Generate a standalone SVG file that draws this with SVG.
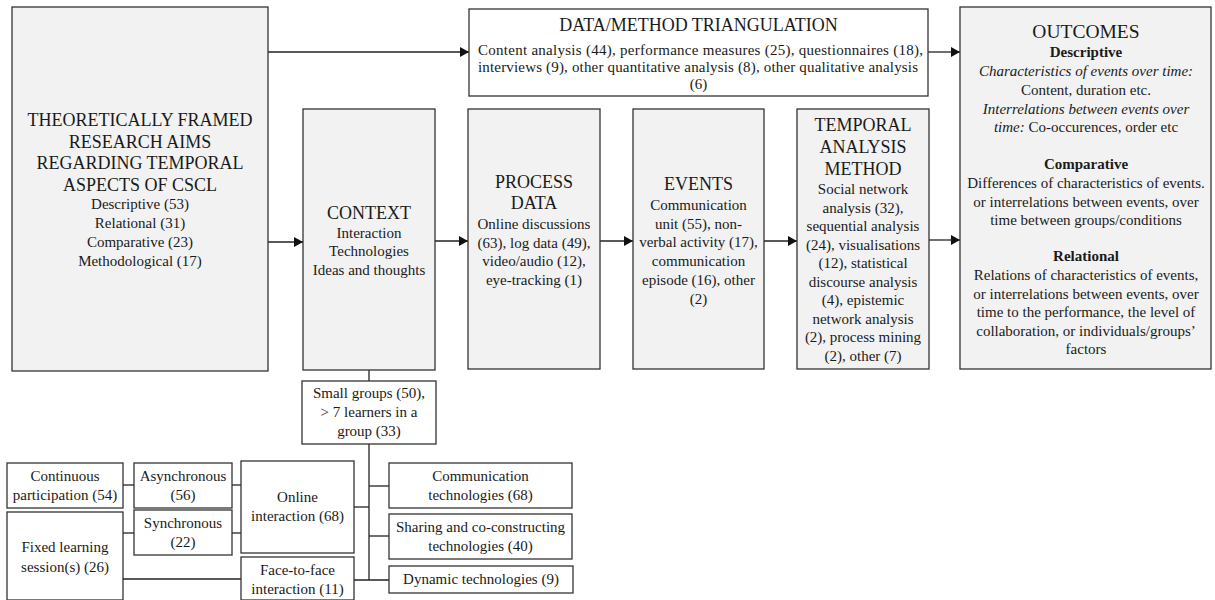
<svg xmlns="http://www.w3.org/2000/svg" width="1215" height="600" viewBox="0 0 1215 600">
<defs>
<marker id="arr" markerWidth="10" markerHeight="10" refX="9" refY="5" orient="auto" markerUnits="userSpaceOnUse">
<path d="M0,0 L9,5 L0,10 Z" fill="#111"/>
</marker>
<style>
text{font-family:"Liberation Serif","Times New Roman",serif;fill:#1a1a1a;text-anchor:middle;font-size:15px}
.t{font-size:18px}
.big{font-size:19.5px}
.b{font-weight:bold}
.i{font-style:italic}
.g{fill:#f2f2f2;stroke:#333;stroke-width:1.3}
.w{fill:#fff;stroke:#333;stroke-width:1.3}
.c{fill:none;stroke:#222;stroke-width:1.3}
</style>
</defs>
<rect width="1215" height="600" fill="#fff"/>

<g id="connectors">
<line class="c" x1="268" y1="52" x2="469" y2="52" marker-end="url(#arr)"/>
<line class="c" x1="928" y1="52" x2="960" y2="52" marker-end="url(#arr)"/>
<line class="c" x1="268" y1="242" x2="303" y2="242" marker-end="url(#arr)"/>
<line class="c" x1="435" y1="241" x2="468" y2="241" marker-end="url(#arr)"/>
<line class="c" x1="600" y1="241" x2="633" y2="241" marker-end="url(#arr)"/>
<line class="c" x1="764" y1="241" x2="797" y2="241" marker-end="url(#arr)"/>
<line class="c" x1="929" y1="240" x2="960" y2="240" marker-end="url(#arr)"/>
<line class="c" x1="369" y1="370" x2="369" y2="381"/>
<line class="c" x1="369" y1="444" x2="369" y2="580"/>
<line class="c" x1="354" y1="507" x2="369" y2="507"/>
<line class="c" x1="354" y1="580" x2="389" y2="580"/>
<line class="c" x1="369" y1="486" x2="389" y2="486"/>
<line class="c" x1="369" y1="536" x2="389" y2="536"/>
<line class="c" x1="123" y1="485" x2="134" y2="485"/>
<line class="c" x1="232" y1="485" x2="241" y2="485"/>
<line class="c" x1="123" y1="533" x2="134" y2="533"/>
<line class="c" x1="232" y1="533" x2="241" y2="533"/>
<line class="c" x1="123" y1="579" x2="241" y2="579"/>
</g>

<g id="aims">
<rect class="g" x="12" y="7" width="256" height="364"/>
<text class="t" x="140" y="126">THEORETICALLY FRAMED</text>
<text class="t" x="140" y="148">RESEARCH AIMS</text>
<text class="t" x="140" y="169">REGARDING TEMPORAL</text>
<text class="t" x="140" y="191">ASPECTS OF CSCL</text>
<text x="140" y="209">Descriptive (53)</text>
<text x="140" y="228">Relational (31)</text>
<text x="140" y="247">Comparative (23)</text>
<text x="140" y="266">Methodological (17)</text>
</g>

<g id="triangulation">
<rect class="w" x="469" y="9" width="459" height="87"/>
<text class="t" x="698.5" y="31">DATA/METHOD TRIANGULATION</text>
<text x="700.5" y="55" textLength="445" lengthAdjust="spacing">Content analysis (44), performance measures (25), questionnaires (18),</text>
<text x="698" y="72" textLength="440" lengthAdjust="spacing">interviews (9), other quantitative analysis (8), other qualitative analysis</text>
<text x="698.5" y="89">(6)</text>
</g>

<g id="outcomes">
<rect class="g" x="960" y="7" width="251" height="362"/>
<text class="big" x="1086" y="38">OUTCOMES</text>
<text class="b" x="1086" y="57">Descriptive</text>
<text class="i" x="1086" y="76">Characteristics of events over time:</text>
<text x="1086" y="95">Content, duration etc.</text>
<text class="i" x="1086" y="113.5">Interrelations between events over</text>
<text x="1086" y="132"><tspan class="i">time:</tspan> Co-occurences, order etc</text>
<text class="b" x="1086" y="169">Comparative</text>
<text x="1086" y="188">Differences of characteristics of events.</text>
<text x="1086" y="206.5">or interrelations between events, over</text>
<text x="1086" y="225">time between groups/conditions</text>
<text class="b" x="1086" y="261">Relational</text>
<text x="1086" y="280">Relations of characteristics of events,</text>
<text x="1086" y="298.5">or interrelations between events, over</text>
<text x="1086" y="317">time to the performance, the level of</text>
<text x="1086" y="335.5">collaboration, or individuals/groups’</text>
<text x="1086" y="354">factors</text>
</g>

<g id="context">
<rect class="g" x="303" y="109" width="132" height="261"/>
<text class="t" x="369" y="219">CONTEXT</text>
<text x="369" y="237.5">Interaction</text>
<text x="369" y="256">Technologies</text>
<text x="369" y="274.5">Ideas and thoughts</text>
</g>

<g id="process-data">
<rect class="g" x="468" y="109" width="132" height="260"/>
<text class="t" x="534" y="188">PROCESS</text>
<text class="t" x="534" y="209">DATA</text>
<text x="534" y="229">Online discussions</text>
<text x="534" y="247.7">(63), log data (49),</text>
<text x="534" y="266.4">video/audio (12),</text>
<text x="534" y="285">eye-tracking (1)</text>
</g>

<g id="events">
<rect class="g" x="633" y="109" width="131" height="260"/>
<text class="t" x="698.5" y="190">EVENTS</text>
<text x="698.5" y="210">Communication</text>
<text x="698.5" y="228.7">unit (55), non-</text>
<text x="698.5" y="247.4">verbal activity (17),</text>
<text x="698.5" y="266.1">communication</text>
<text x="698.5" y="284.8">episode (16), other</text>
<text x="698.5" y="303.5">(2)</text>
</g>

<g id="temporal-method">
<rect class="g" x="797" y="109" width="132" height="260"/>
<text class="t" x="863" y="131">TEMPORAL</text>
<text class="t" x="863" y="153">ANALYSIS</text>
<text class="t" x="863" y="175">METHOD</text>
<text x="863" y="194">Social network</text>
<text x="863" y="212.5">analysis (32),</text>
<text x="863" y="231">sequential analysis</text>
<text x="863" y="249.5">(24), visualisations</text>
<text x="863" y="268">(12), statistical</text>
<text x="863" y="286.5">discourse analysis</text>
<text x="863" y="305">(4), epistemic</text>
<text x="863" y="323.5">network analysis</text>
<text x="863" y="342">(2), process mining</text>
<text x="863" y="360.5">(2), other (7)</text>
</g>

<g id="group-size">
<rect class="w" x="302" y="381" width="134" height="63"/>
<text x="369" y="398">Small groups (50),</text>
<text x="369" y="417">&gt; 7 learners in a</text>
<text x="369" y="436">group (33)</text>
</g>

<g id="continuous">
<rect class="w" x="7" y="463" width="116" height="45"/>
<text x="65" y="481">Continuous</text>
<text x="65" y="500">participation (54)</text>
</g>

<g id="fixed">
<rect class="w" x="7" y="512" width="116" height="88"/>
<text x="65" y="552">Fixed learning</text>
<text x="65" y="572">session(s) (26)</text>
</g>

<g id="asynchronous">
<rect class="w" x="134" y="463" width="98" height="45"/>
<text x="183" y="481">Asynchronous</text>
<text x="183" y="500">(56)</text>
</g>

<g id="synchronous">
<rect class="w" x="134" y="510" width="98" height="45"/>
<text x="183" y="528">Synchronous</text>
<text x="183" y="547">(22)</text>
</g>

<g id="online">
<rect class="w" x="241" y="461" width="113" height="92"/>
<text x="297.5" y="502">Online</text>
<text x="297.5" y="521">interaction (68)</text>
</g>

<g id="face-to-face">
<rect class="w" x="241" y="557" width="113" height="43"/>
<text x="297.5" y="575">Face-to-face</text>
<text x="297.5" y="594">interaction (11)</text>
</g>

<g id="communication-tech">
<rect class="w" x="389" y="463" width="183" height="45"/>
<text x="480.5" y="481">Communication</text>
<text x="480.5" y="500">technologies (68)</text>
</g>

<g id="sharing-tech">
<rect class="w" x="389" y="514" width="183" height="45"/>
<text x="480.5" y="532">Sharing and co-constructing</text>
<text x="480.5" y="551">technologies (40)</text>
</g>

<g id="dynamic-tech">
<rect class="w" x="389" y="566" width="184" height="27"/>
<text x="481" y="584">Dynamic technologies (9)</text>
</g>
</svg>
